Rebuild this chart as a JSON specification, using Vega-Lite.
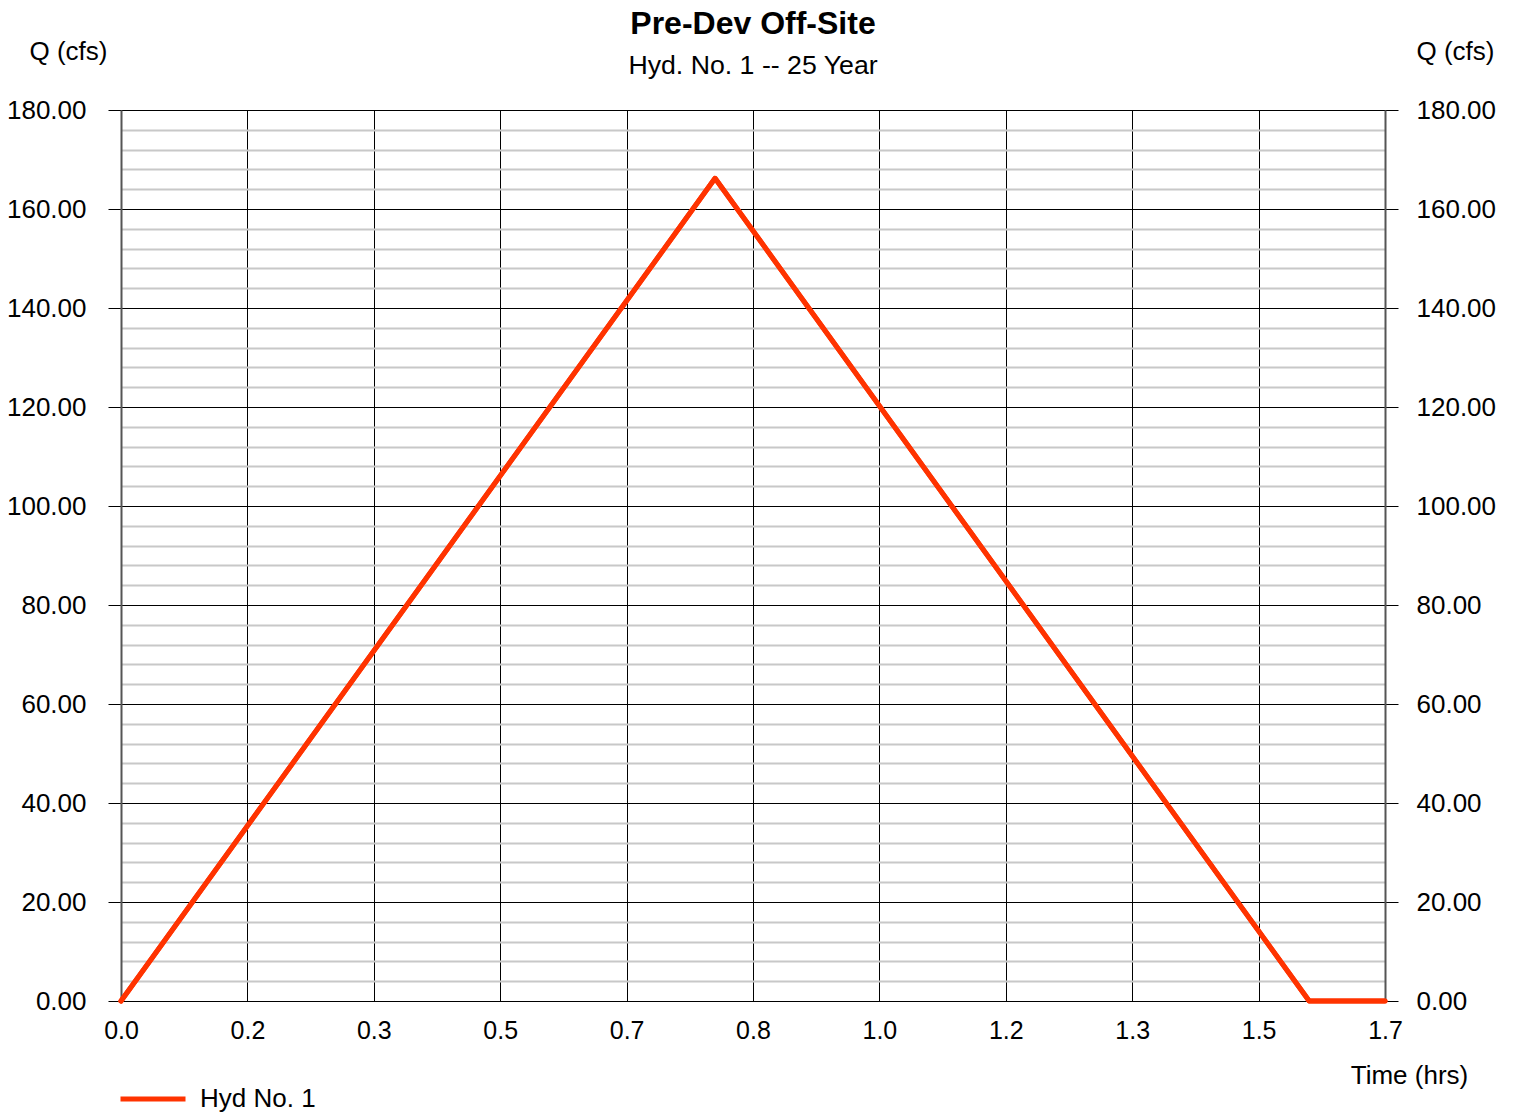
{
  "$schema": "https://vega.github.io/schema/vega-lite/v6.json",
  "autosize": {"type": "none"},
  "width": 1264,
  "height": 891,
  "padding": {"left": 121, "top": 110, "right": 129, "bottom": 111},
  "background": "white",
  "config": {
    "view": {"stroke": null},
    "font": "Liberation Sans",
    "axis": {"labelFont": "Liberation Sans", "titleFont": "Liberation Sans", "labelColor": "black", "titleColor": "black", "titleFontWeight": "normal"},
    "legend": {"labelFont": "Liberation Sans"}
  },
  "title": {
    "text": "Pre-Dev Off-Site",
    "subtitle": "Hyd. No. 1 -- 25 Year",
    "anchor": "middle",
    "font": "Liberation Sans",
    "fontSize": 32,
    "fontWeight": "bold",
    "color": "black",
    "subtitleFont": "Liberation Sans",
    "subtitleFontSize": 26.7,
    "subtitleColor": "black",
    "subtitlePadding": 12,
    "offset": -43
  },
  "data": {
    "values": [
      {"time": 0, "q": 0, "series": "Hyd No. 1"},
      {"time": 0.7833, "q": 166.2, "series": "Hyd No. 1"},
      {"time": 1.5667, "q": 0, "series": "Hyd No. 1"},
      {"time": 1.66667, "q": 0, "series": "Hyd No. 1"}
    ]
  },
  "encoding": {
    "x": {
      "field": "time",
      "type": "quantitative",
      "scale": {"domain": [0, 1.66667], "nice": false, "zero": false},
      "axis": {
        "values": [0, 0.16667, 0.33333, 0.5, 0.66667, 0.83333, 1, 1.16667, 1.33333, 1.5, 1.66667],
        "format": ".1f",
        "title": "Time (hrs)",
        "titleFontSize": 26,
        "titleAngle": 0,
        "titleAlign": "center",
        "titleBaseline": "middle",
        "titleX": 1288,
        "titleY": 74,
        "labelFontSize": 25,
        "labelPadding": 17,
        "ticks": false,
        "domain": true,
        "domainColor": "black",
        "domainWidth": 1,
        "grid": true,
        "gridColor": "black",
        "gridWidth": 1,
        "gridOpacity": 1,
        "labelFlush": false,
        "labelOverlap": false
      }
    },
    "color": {
      "field": "series",
      "type": "nominal",
      "scale": {"domain": ["Hyd No. 1"], "range": ["#ff3300"]},
      "legend": {
        "title": null,
        "orient": "none",
        "legendX": -3,
        "legendY": 954,
        "symbolType": "stroke",
        "symbolSize": 4225,
        "symbolStrokeWidth": 5,
        "symbolStrokeColor": "#ff3300",
        "labelFontSize": 26,
        "labelColor": "black",
        "labelOffset": 12,
        "padding": 0
      }
    }
  },
  "layer": [
    {
      "mark": {"type": "line", "strokeWidth": 5, "strokeJoin": "round", "strokeCap": "round"},
      "encoding": {
        "y": {
          "field": "q",
          "type": "quantitative",
          "scale": {"domain": [0, 180], "nice": false},
          "axis": {
            "orient": "left",
            "values": [0,4,8,12,16,20,24,28,32,36,40,44,48,52,56,60,64,68,72,76,80,84,88,92,96,100,104,108,112,116,120,124,128,132,136,140,144,148,152,156,160,164,168,172,176,180],
            "labelExpr": "datum.value % 20 === 0 ? format(datum.value, '.2f') : ''",
            "labelFontSize": 26,
            "labelPadding": 22,
            "labelOverlap": false,
            "labelFlush": false,
            "tickSize": 13,
            "tickColor": "black",
            "tickWidth": 1,
            "tickOpacity": {"condition": {"test": "datum.value % 20 === 0", "value": 1}, "value": 0},
            "domain": true,
            "domainColor": "#555555",
            "domainWidth": 2,
            "grid": true,
            "gridColor": {"condition": {"test": "datum.value % 20 === 0", "value": "black"}, "value": "#c8c8c8"},
            "gridWidth": {"condition": {"test": "datum.value % 20 === 0", "value": 1}, "value": 2},
            "gridOpacity": 1,
            "title": "Q (cfs)",
            "titleFontSize": 26,
            "titleAngle": 0,
            "titleAlign": "center",
            "titleBaseline": "middle",
            "titleX": -53,
            "titleY": -59
          }
        }
      }
    },
    {
      "mark": {"type": "line", "strokeWidth": 5, "strokeJoin": "round", "strokeCap": "round"},
      "encoding": {
        "y": {
          "field": "q",
          "type": "quantitative",
          "scale": {"domain": [0, 180], "nice": false},
          "axis": {
            "orient": "right",
            "values": [0,20,40,60,80,100,120,140,160,180],
            "format": ".2f",
            "labelFontSize": 26,
            "labelPadding": 18,
            "labelOverlap": false,
            "labelFlush": false,
            "tickSize": 13,
            "tickColor": "black",
            "tickWidth": 1,
            "domain": true,
            "domainColor": "#555555",
            "domainWidth": 2,
            "grid": false,
            "title": "Q (cfs)",
            "titleFontSize": 26,
            "titleAngle": 0,
            "titleAlign": "center",
            "titleBaseline": "middle",
            "titleX": 70,
            "titleY": -59
          }
        }
      }
    }
  ],
  "resolve": {"scale": {"y": "independent"}}
}
